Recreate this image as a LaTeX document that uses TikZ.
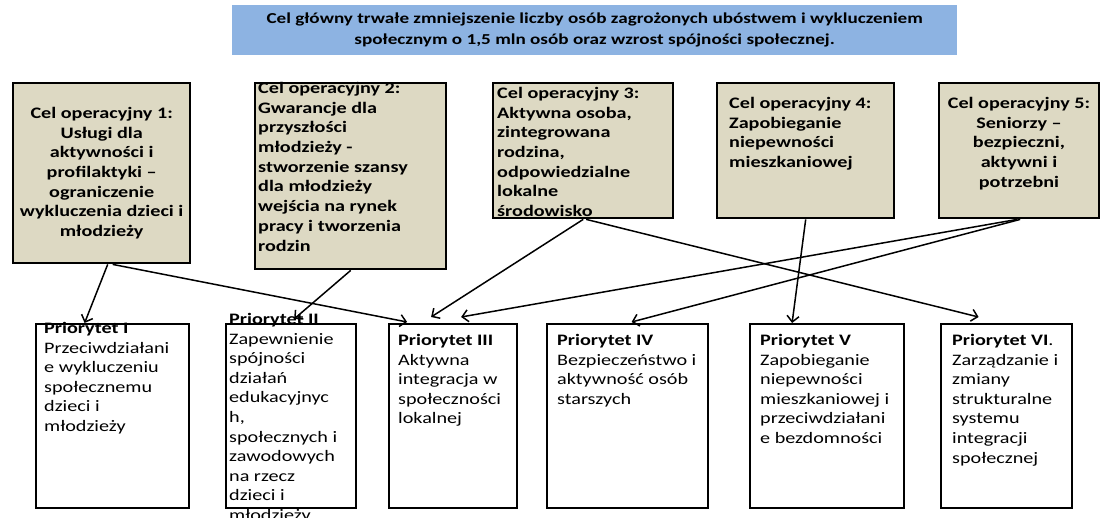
\documentclass[tikz,border=0pt]{standalone}
\usepackage{fontspec}
\setmainfont{Carlito}[FakeStretch=1.26]
\usetikzlibrary{arrows.meta}
\definecolor{celtlo}{HTML}{DDD9C3}
\definecolor{glownytlo}{HTML}{8DB3E2}

\begin{document}
\begin{tikzpicture}[x=1pt, y=-1pt,
                    glowny/.style={fill=glownytlo, anchor=north west, align=center,
                                   font=\fontsize{15.2}{21}\selectfont\bfseries},
                    cel/.style={draw, line width=2.4pt, fill=celtlo, anchor=north west},
                    prio/.style={draw, line width=2.2pt, fill=white, anchor=north west,
                                 minimum height=184pt},
                    celtxt/.style={inner sep=0pt, font=\fontsize{16}{19.7}\selectfont\bfseries},
                    priotxt/.style={inner sep=0pt, anchor=north west, align=left,
                                    font=\fontsize{16}{19.6}\selectfont},
                    strzalka/.style={line width=1.5pt, -{Straight Barb[length=6pt,width=12pt]}}]
\useasboundingbox (0,0) rectangle (1101,518);

% cel glowny
\node[glowny, minimum width=725pt, minimum height=50pt] (glowny) at (232,5)
    {Cel główny trwałe zmniejszenie liczby osób zagrożonych ubóstwem i wykluczeniem\\
     społecznym o 1,5 mln osób oraz wzrost spójności społecznej.};

% cele operacyjne
\node[cel, minimum width=177pt, minimum height=180pt] (c1) at (12,82) {};
\node[cel, minimum width=191pt, minimum height=186pt] (c2) at (254,82) {};
\node[cel, minimum width=180pt, minimum height=135pt] (c3) at (492,82) {};
\node[cel, minimum width=177pt, minimum height=135pt] (c4) at (716,82) {};
\node[cel, minimum width=160pt, minimum height=135pt] (c5) at (938,82) {};

\node[celtxt, align=center] (c1t) at (c1.center)
    {Cel operacyjny 1:\\ Usługi dla\\ aktywności i\\ profilaktyki –\\ ograniczenie\\
     wykluczenia dzieci i\\ młodzieży};
\node[celtxt, align=left, anchor=north west] (c2t) at (258,82)
    {Cel operacyjny 2:\\ Gwarancje dla\\ przyszłości\\ młodzieży -\\ stworzenie szansy\\
     dla młodzieży\\ wejścia na rynek\\ pracy i tworzenia\\ rodzin};
\node[celtxt, align=left, anchor=north west] (c3t) at (497,87)
    {Cel operacyjny 3:\\ Aktywna osoba,\\ zintegrowana\\ rodzina,\\ odpowiedzialne\\
     lokalne\\ środowisko};
\node[celtxt, align=left, anchor=north west] (c4t) at (729,97)
    {Cel operacyjny 4:\\ Zapobieganie\\ niepewności\\ mieszkaniowej};
\node[celtxt, align=center, anchor=north] (c5t) at (1019,97)
    {Cel operacyjny 5:\\ Seniorzy –\\ bezpieczni,\\ aktywni i\\ potrzebni};

% priorytety
\node[prio, minimum width=153pt] (p1) at (35,323) {};
\node[prio, minimum width=130pt] (p2) at (225,323) {};
\node[prio, minimum width=128pt] (p3) at (388,323) {};
\node[prio, minimum width=161pt] (p4) at (546,323) {};
\node[prio, minimum width=154pt] (p5) at (749,323) {};
\node[prio, minimum width=131pt] (p6) at (940,323) {};

\node[priotxt] (p1t) at (44,322)
    {\textbf{Priorytet I}\\ Przeciwdziałani\\ e wykluczeniu\\ społecznemu\\ dzieci i\\ młodzieży};
\node[priotxt] (p2t) at (229,313)
    {\textbf{Priorytet II}\\ Zapewnienie\\ spójności\\ działań\\ edukacyjnyc\\ h,\\
     społecznych i\\ zawodowych\\ na rzecz\\ dzieci i\\ młodzieży};
\node[priotxt] (p3t) at (398,334)
    {\textbf{Priorytet III}\\ Aktywna\\ integracja w\\ społeczności\\ lokalnej};
\node[priotxt] (p4t) at (557,334)
    {\textbf{Priorytet IV}\\ Bezpieczeństwo i\\ aktywność osób\\ starszych};
\node[priotxt] (p5t) at (760,334)
    {\textbf{Priorytet V}\\ Zapobieganie\\ niepewności\\ mieszkaniowej i\\ przeciwdziałani\\ e bezdomności};
\node[priotxt] (p6t) at (952,334)
    {\textbf{Priorytet VI}.\\ Zarządzanie i\\ zmiany\\ strukturalne\\ systemu\\ integracji\\ społecznej};

% powiazania
\draw[strzalka] ([xshift=6pt]c1.south) -- ([xshift=-28pt]p1.north);
\draw[strzalka] ([xshift=11pt]c1.south) -- ([xshift=-46pt,yshift=1pt]p3.north);
\draw[strzalka] (c2.south) -- ([xshift=3pt,yshift=4pt]p2.north);
\draw[strzalka] (c3.south) -- ([xshift=-22pt,yshift=6pt]p3.north);
\draw[strzalka] ([xshift=3pt]c3.south) -- ([xshift=-28pt,yshift=6pt]p6.north);
\draw[strzalka] (c4.south) -- ([xshift=-35pt]p5.north);
\draw[strzalka] ([xshift=-2pt]c5.south) -- ([xshift=8pt,yshift=6pt]p3.north);
\draw[strzalka] ([xshift=1pt]c5.south) -- ([xshift=4pt,yshift=1pt]p4.north);
\end{tikzpicture}
\end{document}
